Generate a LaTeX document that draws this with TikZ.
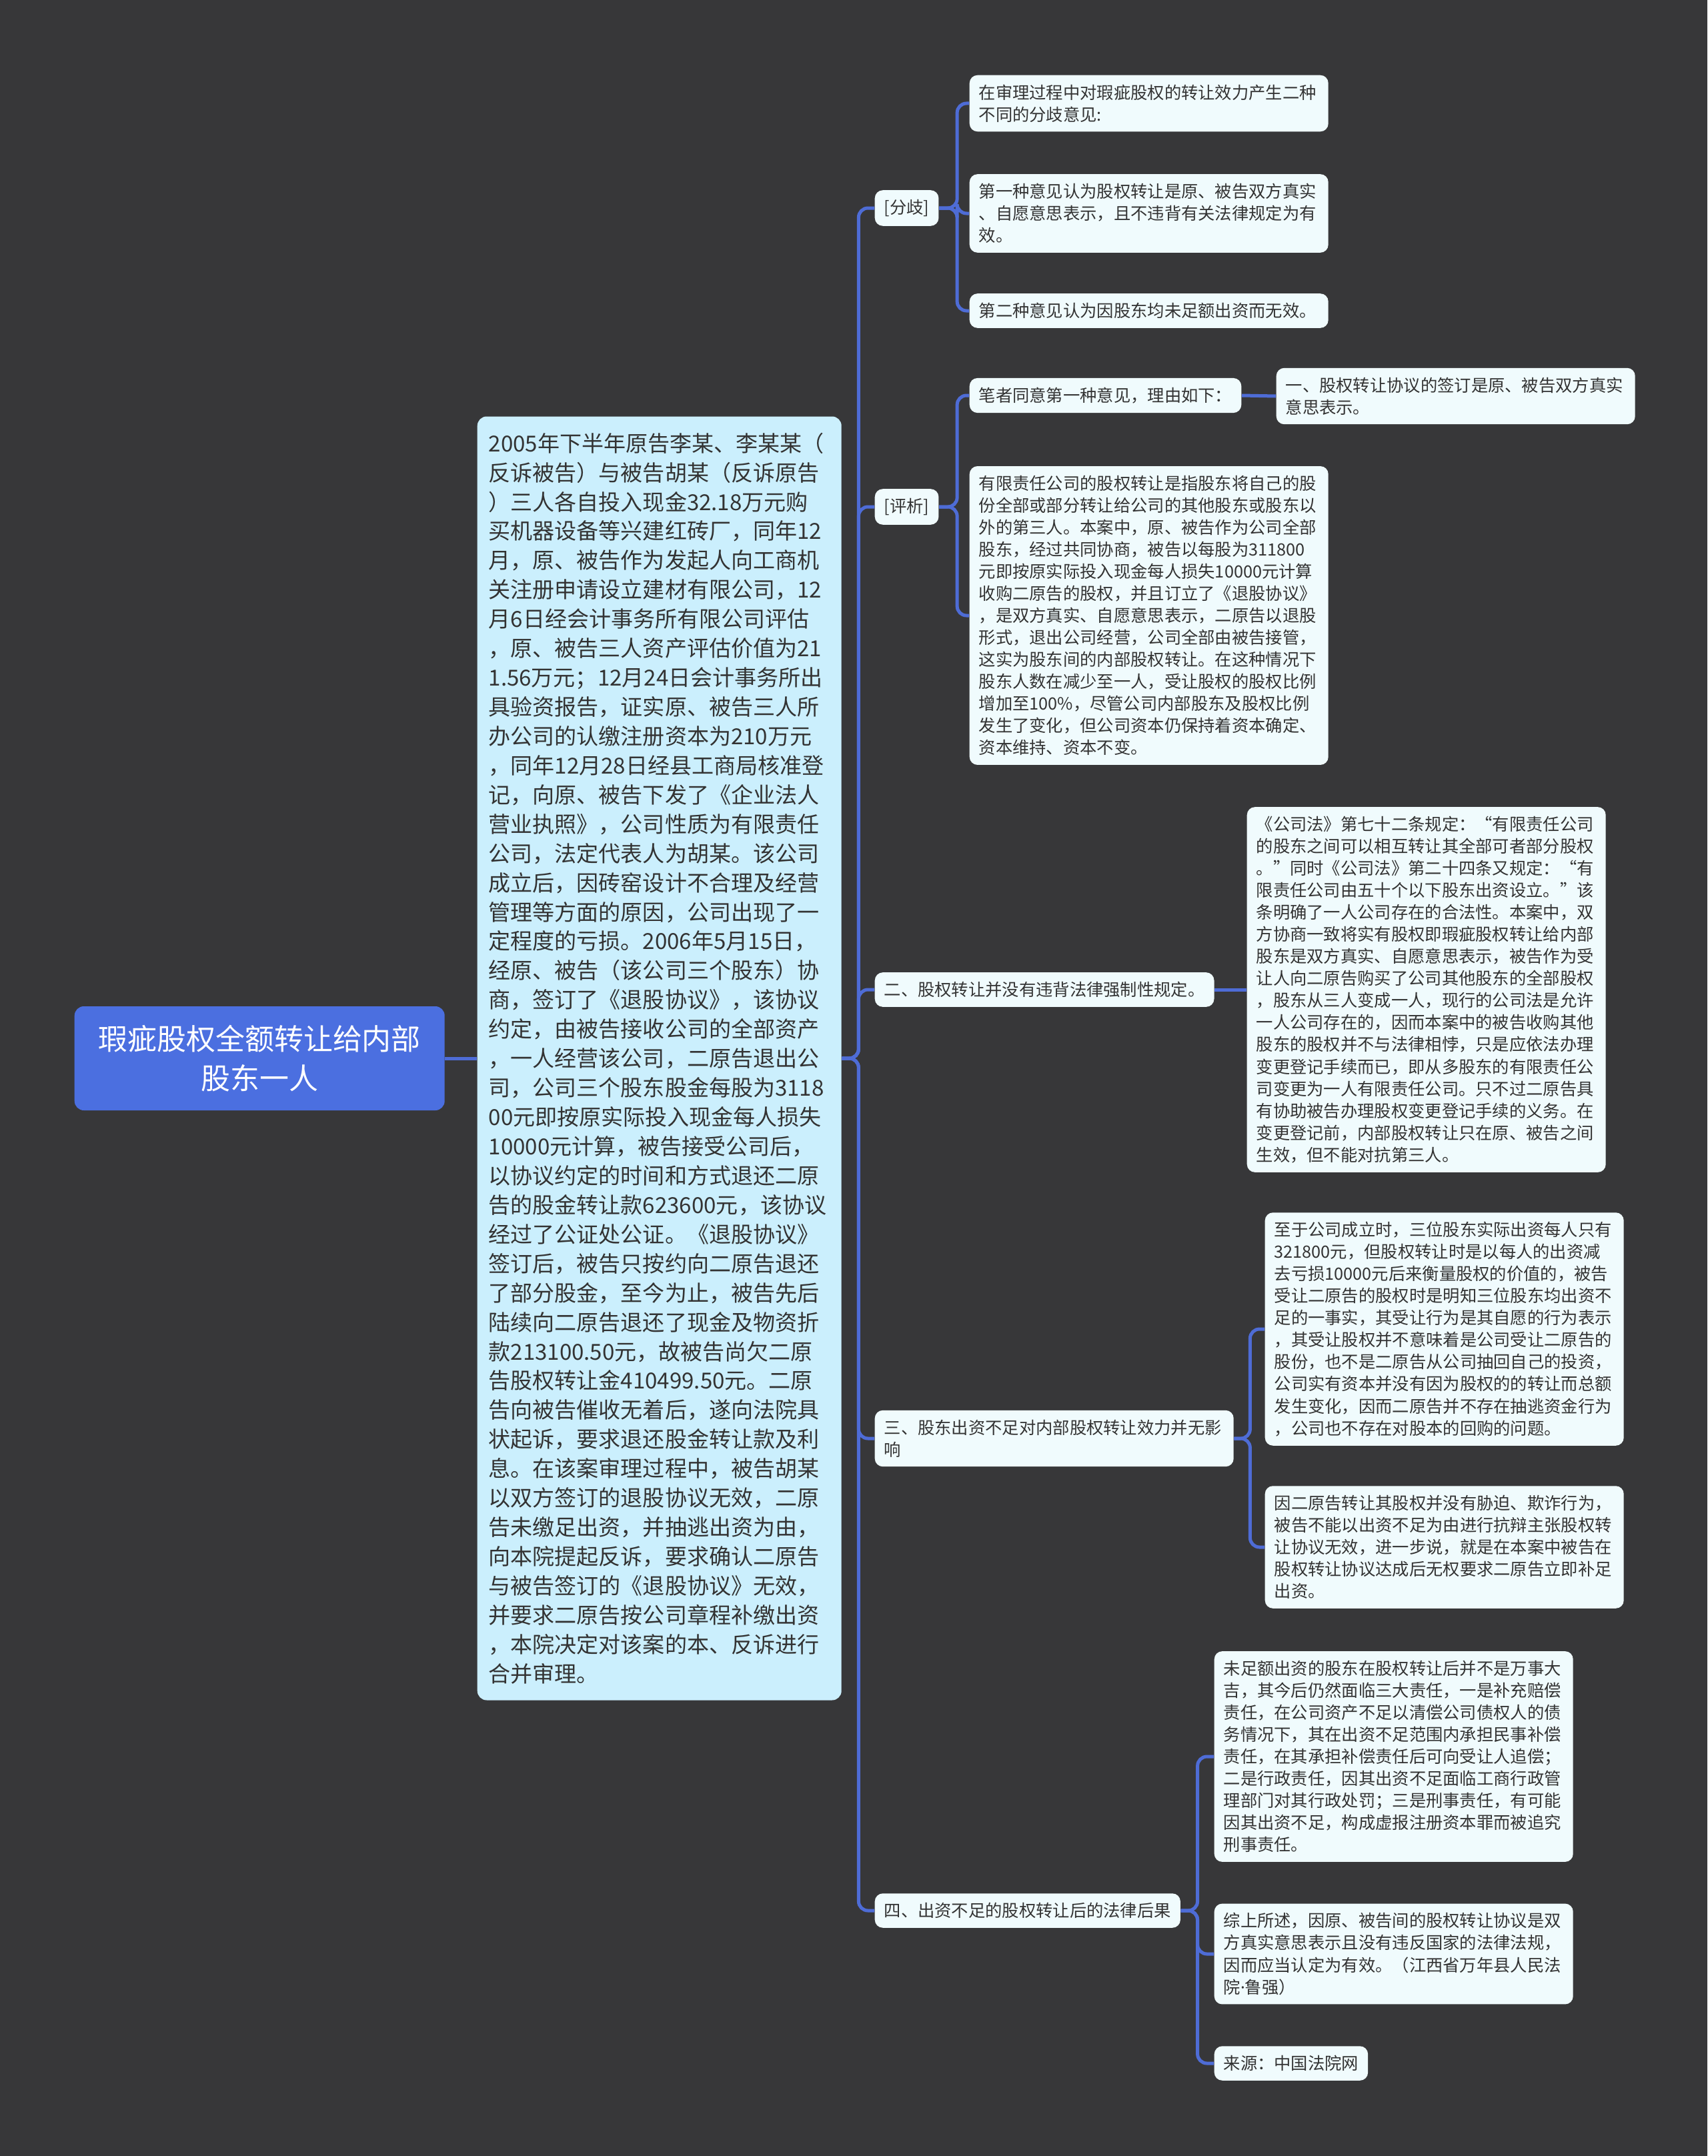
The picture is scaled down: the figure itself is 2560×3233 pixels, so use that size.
\documentclass[tikz,border=0pt]{standalone}
\usepackage{fontspec}
\setmainfont{Noto Sans CJK SC}
\newfontfamily\latinfont{Noto Sans}
\usetikzlibrary{positioning}
\definecolor{bgcol}{RGB}{55,55,57}
\definecolor{linkcol}{RGB}{78,108,214}
\definecolor{rootcol}{RGB}{75,111,224}
\definecolor{maincol}{RGB}{203,239,253}
\definecolor{leafcol}{RGB}{240,251,253}
\definecolor{textcol}{RGB}{51,51,51}

\begin{document}
\begin{tikzpicture}[
  x=0.1mm,y=-0.1mm,
  topic/.style={fill=rootcol, rounded corners=1.4mm, text=white, align=center, anchor=west, text width=52.7mm, minimum height=15.6mm, inner xsep=1.4mm, font=\fontsize{12.5pt}{16.8pt}\selectfont},
  story/.style={fill=maincol, rounded corners=1.4mm, text=textcol, align=left, anchor=west, text width=51.2mm, minimum height=192.5mm, inner xsep=1.7mm, font=\fontsize{9.4pt}{12.5pt}\selectfont},
  part/.style={fill=leafcol, rounded corners=1.2mm, text=textcol, align=left, anchor=west, inner sep=1.4mm, font=\fontsize{7.2pt}{9.4pt}\selectfont},
  leaf/.style={part, text width=51mm},
  link/.style={draw=linkcol, line width=0.5mm, rounded corners=1.4mm}
]
\fill[bgcol] (0,0) rectangle (2560,3233);
\useasboundingbox (0,0) rectangle (2560,3233);

\node[topic] (topic) at (111,1587) {瑕疵股权全额转让给内部\\股东一人};
\node[story] (story) at (715,1587) {2005年下半年原告李某、李某某（\\反诉被告）与被告胡某（反诉原告\\）三人各自投入现金32.18万元购\\买机器设备等兴建红砖厂，同年12\\月，原、被告作为发起人向工商机\\关注册申请设立建材有限公司，12\\月6日经会计事务所有限公司评估\\，原、被告三人资产评估价值为21\\1.56万元；12月24日会计事务所出\\具验资报告，证实原、被告三人所\\办公司的认缴注册资本为210万元\\，同年12月28日经县工商局核准登\\记，向原、被告下发了《企业法人\\营业执照》，公司性质为有限责任\\公司，法定代表人为胡某。该公司\\成立后，因砖窑设计不合理及经营\\管理等方面的原因，公司出现了一\\定程度的亏损。2006年5月15日，\\经原、被告（该公司三个股东）协\\商，签订了《退股协议》，该协议\\约定，由被告接收公司的全部资产\\，一人经营该公司，二原告退出公\\司，公司三个股东股金每股为3118\\00元即按原实际投入现金每人损失\\10000元计算，被告接受公司后，\\以协议约定的时间和方式退还二原\\告的股金转让款623600元，该协议\\经过了公证处公证。《退股协议》\\签订后，被告只按约向二原告退还\\了部分股金，至今为止，被告先后\\陆续向二原告退还了现金及物资折\\款213100.50元，故被告尚欠二原\\告股权转让金410499.50元。二原\\告向被告催收无着后，遂向法院具\\状起诉，要求退还股金转让款及利\\息。在该案审理过程中，被告胡某\\以双方签订的退股协议无效，二原\\告未缴足出资，并抽逃出资为由，\\向本院提起反诉，要求确认二原告\\与被告签订的《退股协议》无效，\\并要求二原告按公司章程补缴出资\\，本院决定对该案的本、反诉进行\\合并审理。};

\node[part] (fenqi) at (1311,312) {[分歧]};
\node[leaf] (fq1) at (1453,155) {在审理过程中对瑕疵股权的转让效力产生二种\\不同的分歧意见:};
\node[leaf] (fq2) at (1453,320) {第一种意见认为股权转让是原、被告双方真实\\、自愿意思表示，且不违背有关法律规定为有\\效。};
\node[leaf] (fq3) at (1453,466) {第二种意见认为因股东均未足额出资而无效。};

\node[part] (pingxi) at (1311,760) {[评析]};
\node[part] (px1) at (1453,593) {笔者同意第一种意见，理由如下：};
\node[leaf] (px1a) at (1913,594) {一、股权转让协议的签订是原、被告双方真实\\意思表示。};
\node[leaf] (px2) at (1453,923) {有限责任公司的股权转让是指股东将自己的股\\份全部或部分转让给公司的其他股东或股东以\\外的第三人。本案中，原、被告作为公司全部\\股东，经过共同协商，被告以每股为311800\\元即按原实际投入现金每人损失10000元计算\\收购二原告的股权，并且订立了《退股协议》\\，是双方真实、自愿意思表示，二原告以退股\\形式，退出公司经营，公司全部由被告接管，\\这实为股东间的内部股权转让。在这种情况下\\股东人数在减少至一人，受让股权的股权比例\\增加至100\%，尽管公司内部股东及股权比例\\发生了变化，但公司资本仍保持着资本确定、\\资本维持、资本不变。};

\node[part] (er) at (1311,1484) {二、股权转让并没有违背法律强制性规定。};
\node[leaf] (er1) at (1869,1484) {《公司法》第七十二条规定：“有限责任公司\\的股东之间可以相互转让其全部可者部分股权\\。”同时《公司法》第二十四条又规定：“有\\限责任公司由五十个以下股东出资设立。”该\\条明确了一人公司存在的合法性。本案中，双\\方协商一致将实有股权即瑕疵股权转让给内部\\股东是双方真实、自愿意思表示，被告作为受\\让人向二原告购买了公司其他股东的全部股权\\，股东从三人变成一人，现行的公司法是允许\\一人公司存在的，因而本案中的被告收购其他\\股东的股权并不与法律相悖，只是应依法办理\\变更登记手续而已，即从多股东的有限责任公\\司变更为一人有限责任公司。只不过二原告具\\有协助被告办理股权变更登记手续的义务。在\\变更登记前，内部股权转让只在原、被告之间\\生效，但不能对抗第三人。};

\node[leaf] (san) at (1311,2157) {三、股东出资不足对内部股权转让效力并无影\\响};
\node[leaf] (san1) at (1896,1993) {至于公司成立时，三位股东实际出资每人只有\\321800元，但股权转让时是以每人的出资减\\去亏损10000元后来衡量股权的价值的，被告\\受让二原告的股权时是明知三位股东均出资不\\足的一事实，其受让行为是其自愿的行为表示\\，其受让股权并不意味着是公司受让二原告的\\股份，也不是二原告从公司抽回自己的投资，\\公司实有资本并没有因为股权的的转让而总额\\发生变化，因而二原告并不存在抽逃资金行为\\，公司也不存在对股本的回购的问题。};
\node[leaf] (san2) at (1896,2320) {因二原告转让其股权并没有胁迫、欺诈行为，\\被告不能以出资不足为由进行抗辩主张股权转\\让协议无效，进一步说，就是在本案中被告在\\股权转让协议达成后无权要求二原告立即补足\\出资。};

\node[part] (si) at (1311,2865) {四、出资不足的股权转让后的法律后果};
\node[leaf] (si1) at (1820,2634) {未足额出资的股东在股权转让后并不是万事大\\吉，其今后仍然面临三大责任，一是补充赔偿\\责任，在公司资产不足以清偿公司债权人的债\\务情况下，其在出资不足范围内承担民事补偿\\责任，在其承担补偿责任后可向受让人追偿；\\二是行政责任，因其出资不足面临工商行政管\\理部门对其行政处罚；三是刑事责任，有可能\\因其出资不足，构成虚报注册资本罪而被追究\\刑事责任。};
\node[leaf] (si2) at (1820,2930) {综上所述，因原、被告间的股权转让协议是双\\方真实意思表示且没有违反国家的法律法规，\\因而应当认定为有效。（江西省万年县人民法\\院{\latinfont ·}鲁强）};
\node[part] (si3) at (1820,3094) {来源：中国法院网};

\draw[link] (topic.east) -- (story.west);
\foreach \k in {fenqi,pingxi,er,san,si}
  \draw[link] (story.east) -- ++(25,0) |- (\k.west);
\foreach \k in {fq1,fq2,fq3}
  \draw[link] (fenqi.east) -- ++(27,0) |- (\k.west);
\foreach \k in {px1,px2}
  \draw[link] (pingxi.east) -- ++(27,0) |- (\k.west);
\draw[link] (px1.east) -- (px1a.west);
\draw[link] (er.east) -- (er1.west);
\foreach \k in {san1,san2}
  \draw[link] (san.east) -- ++(24,0) |- (\k.west);
\foreach \k in {si1,si2,si3}
  \draw[link] (si.east) -- ++(25,0) |- (\k.west);
\end{tikzpicture}
\end{document}
